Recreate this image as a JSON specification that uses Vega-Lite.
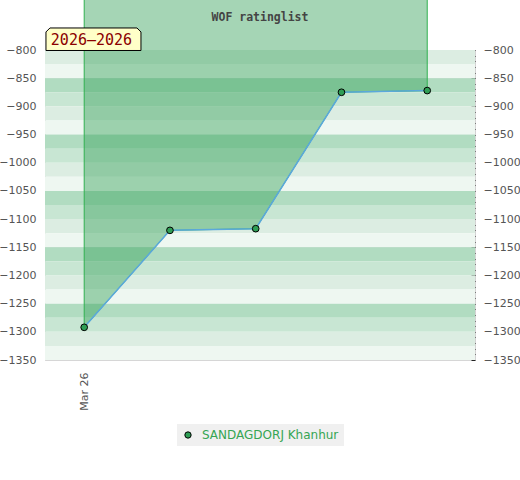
{
  "$schema": "https://vega.github.io/schema/vega-lite/v6.json",
  "description": "WOF ratinglist, rating history of one player",
  "autosize": {"type": "none"},
  "padding": {"left": 45, "top": 50, "right": 45, "bottom": 120},
  "width": 430,
  "height": 310,
  "title": {
    "text": "WOF ratinglist",
    "font": "DejaVu Sans Mono",
    "fontSize": 11.5,
    "fontWeight": "bold",
    "color": "#444",
    "anchor": "middle",
    "baseline": "alphabetic",
    "offset": -41
  },
  "data": {
    "values": [
      {"game": 0, "rating": -1292, "player": "SANDAGDORJ Khanhur"},
      {"game": 1, "rating": -1120, "player": "SANDAGDORJ Khanhur"},
      {"game": 2, "rating": -1117, "player": "SANDAGDORJ Khanhur"},
      {"game": 3, "rating": -875, "player": "SANDAGDORJ Khanhur"},
      {"game": 4, "rating": -872, "player": "SANDAGDORJ Khanhur"}
    ]
  },
  "layer": [
    {
      "data": {
        "values": [
          {"hi": -800, "lo": -825, "tone": "c"},
          {"hi": -825, "lo": -850, "tone": "d"},
          {"hi": -850, "lo": -875, "tone": "a"},
          {"hi": -875, "lo": -900, "tone": "b"},
          {"hi": -900, "lo": -925, "tone": "c"},
          {"hi": -925, "lo": -950, "tone": "d"},
          {"hi": -950, "lo": -975, "tone": "a"},
          {"hi": -975, "lo": -1000, "tone": "b"},
          {"hi": -1000, "lo": -1025, "tone": "c"},
          {"hi": -1025, "lo": -1050, "tone": "d"},
          {"hi": -1050, "lo": -1075, "tone": "a"},
          {"hi": -1075, "lo": -1100, "tone": "b"},
          {"hi": -1100, "lo": -1125, "tone": "c"},
          {"hi": -1125, "lo": -1150, "tone": "d"},
          {"hi": -1150, "lo": -1175, "tone": "a"},
          {"hi": -1175, "lo": -1200, "tone": "b"},
          {"hi": -1200, "lo": -1225, "tone": "c"},
          {"hi": -1225, "lo": -1250, "tone": "d"},
          {"hi": -1250, "lo": -1275, "tone": "a"},
          {"hi": -1275, "lo": -1300, "tone": "b"},
          {"hi": -1300, "lo": -1325, "tone": "c"},
          {"hi": -1325, "lo": -1350, "tone": "d"}
        ]
      },
      "mark": {"type": "rect"},
      "encoding": {
        "y": {
          "field": "hi", "type": "quantitative",
          "scale": {"domain": [-1350, -800], "nice": false, "zero": false},
          "axis": {
            "orient": "left",
            "values": [-800, -850, -900, -950, -1000, -1050, -1100, -1150, -1200, -1250, -1300, -1350],
            "format": "d",
            "title": null,
            "domain": false,
            "ticks": false,
            "labelPadding": 9,
            "labelColor": "#555",
            "labelFontSize": 11,
            "grid": true,
            "gridColor": {"condition": {"test": "(datum.value + 850) % 100 === 0", "value": "#d6d6d6"}, "value": "transparent"}
          }
        },
        "y2": {"field": "lo"},
        "fill": {
          "field": "tone", "type": "nominal", "legend": null,
          "scale": {"domain": ["a", "b", "c", "d"], "range": ["#b1dcc1", "#c8e6d3", "#dcede2", "#eef7f1"]}
        }
      }
    },
    {
      "mark": {"type": "area", "fill": "#37a25a", "fillOpacity": 0.45, "stroke": "#30b050", "strokeWidth": 1},
      "encoding": {
        "x": {
          "field": "game", "type": "quantitative",
          "scale": {"domain": [-0.457, 4.557], "nice": false, "zero": false},
          "axis": {
            "values": [0],
            "labelExpr": "'Mar 26'",
            "labelAngle": 270,
            "labelPadding": 12,
            "labelColor": "#555",
            "labelFontSize": 11,
            "domain": false,
            "ticks": false,
            "grid": false,
            "title": null
          }
        },
        "y": {
          "field": "rating", "type": "quantitative",
          "scale": {"domain": [-1350, -800], "nice": false, "zero": false},
          "axis": {
            "orient": "right",
            "values": [-800, -810, -820, -830, -840, -850, -860, -870, -880, -890, -900, -910, -920, -930, -940, -950, -960, -970, -980, -990, -1000, -1010, -1020, -1030, -1040, -1050, -1060, -1070, -1080, -1090, -1100, -1110, -1120, -1130, -1140, -1150, -1160, -1170, -1180, -1190, -1200, -1210, -1220, -1230, -1240, -1250, -1260, -1270, -1280, -1290, -1300, -1310, -1320, -1330, -1340, -1350],
            "format": "d",
            "labelExpr": "datum.value % 50 === 0 ? datum.label : ''",
            "labelOverlap": false,
            "title": null,
            "domain": false,
            "grid": false,
            "tickColor": "#222",
            "tickSize": -4,
            "labelPadding": 12,
            "labelColor": "#555",
            "labelFontSize": 11
          }
        },
        "y2": {"datum": -700}
      }
    },
    {
      "mark": {"type": "line", "color": "#5ba8dc", "strokeWidth": 1.5},
      "encoding": {
        "x": {"field": "game", "type": "quantitative", "scale": {"domain": [-0.457, 4.557], "nice": false, "zero": false}},
        "y": {"field": "rating", "type": "quantitative", "scale": {"domain": [-1350, -800], "nice": false, "zero": false}, "axis": null}
      }
    },
    {
      "mark": {"type": "point", "filled": true, "size": 45, "stroke": "#000", "strokeWidth": 1, "opacity": 1},
      "encoding": {
        "x": {"field": "game", "type": "quantitative", "scale": {"domain": [-0.457, 4.557], "nice": false, "zero": false}},
        "y": {"field": "rating", "type": "quantitative", "scale": {"domain": [-1350, -800], "nice": false, "zero": false}, "axis": null},
        "color": {
          "field": "player", "type": "nominal",
          "scale": {"range": ["#2f9e55"]},
          "legend": {
            "title": null,
            "orient": "bottom",
            "offset": 13,
            "fillColor": "#f0f0f0",
            "padding": 5,
            "labelColor": "#35a553",
            "labelFontSize": 12,
            "labelOffset": 8,
            "symbolType": "circle",
            "symbolSize": 40,
            "symbolStrokeColor": "#000",
            "symbolStrokeWidth": 1,
            "symbolOpacity": 1
          }
        }
      }
    },
    {
      "data": {"values": [{"label": "2026–2026"}]},
      "mark": {
        "type": "point",
        "shape": "M-1,0.237L-1,-0.153L-0.916,-0.237L0.916,-0.237L1,-0.153L1,0.237Z",
        "size": 9025,
        "filled": true,
        "fill": "#ffffc8",
        "stroke": "#000",
        "strokeWidth": 1,
        "opacity": 1
      },
      "encoding": {
        "x": {"datum": 0.108, "type": "quantitative", "scale": {"domain": [-0.457, 4.557], "nice": false, "zero": false}},
        "y": {"datum": -780.9, "type": "quantitative", "scale": {"domain": [-1350, -800], "nice": false, "zero": false}, "axis": null}
      }
    },
    {
      "data": {"values": [{"label": "2026–2026"}]},
      "mark": {
        "type": "text",
        "font": "DejaVu Sans Mono",
        "fontSize": 15,
        "color": "#8b0000",
        "align": "center",
        "baseline": "middle",
        "dx": -2,
        "dy": 1
      },
      "encoding": {
        "x": {"datum": 0.108, "type": "quantitative", "scale": {"domain": [-0.457, 4.557], "nice": false, "zero": false}},
        "y": {"datum": -780.9, "type": "quantitative", "scale": {"domain": [-1350, -800], "nice": false, "zero": false}, "axis": null},
        "text": {"field": "label"}
      }
    }
  ],
  "resolve": {"axis": {"y": "independent"}},
  "config": {
    "font": "DejaVu Sans",
    "view": {"stroke": "#d3d3d3"},
    "axis": {"grid": false},
    "legend": {"layout": {"bottom": {"anchor": "middle"}}}
  }
}
